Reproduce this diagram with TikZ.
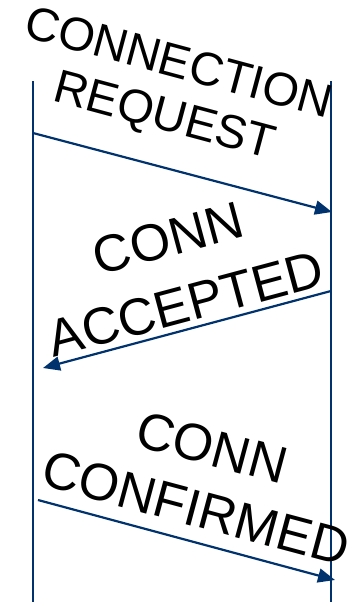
\documentclass[tikz,border=0pt]{standalone}
\usepackage{fontspec}
\setmainfont{Liberation Sans}
\usetikzlibrary{arrows.meta}

\definecolor{lineblue}{RGB}{0,51,110}

\begin{document}
\begin{tikzpicture}[
        x=1pt, y=-1pt,
        lifeline/.style={draw=lineblue, line width=2pt},
        msg/.style={-{Triangle[length=17pt, width=14pt]}, draw=lineblue, fill=lineblue, line width=2.2pt},
        msgtext/.style={align=center, text=black, inner sep=0pt}
    ]
        \useasboundingbox (0,0) rectangle (355,602);

        % Lifelines
        \coordinate (client top) at (32.5,81);
        \coordinate (client bottom) at (32.5,602);
        \coordinate (server top) at (331,81);
        \coordinate (server bottom) at (331,602);
        \draw[lifeline] (client top) -- (client bottom);
        \draw[lifeline] (server top) -- (server bottom);

        % Message ends
        \coordinate (req start) at (33,133);
        \coordinate (req end) at (332,212);
        \coordinate (acc start) at (331,291);
        \coordinate (acc end) at (43,368);
        \coordinate (conf start) at (38,500);
        \coordinate (conf end) at (335,580);

        % Messages
        \draw[msg] (req start) -- (req end);
        \draw[msg] (acc start) -- (acc end);
        \draw[msg] (conf start) -- (conf end);

        % Labels
        \node[msgtext, rotate=-15, font=\fontsize{47}{54}\selectfont] (req label) at (171,92) {CONNECTION\\REQUEST};
        \node[msgtext, rotate=15, font=\fontsize{52}{68}\selectfont] (acc label) at (177,271) {CONN\\ACCEPTED};
        \node[msgtext, rotate=-15, font=\fontsize{52}{63}\selectfont] (conf label) at (204,478) {CONN\\CONFIRMED};
    \end{tikzpicture}
\end{document}
